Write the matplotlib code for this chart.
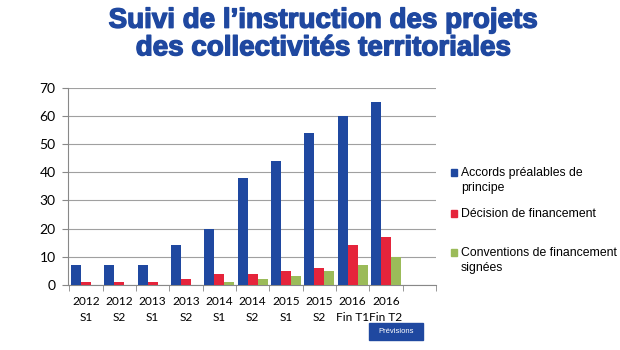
import numpy as np
import matplotlib
matplotlib.use("Agg")
import matplotlib.pyplot as plt
import matplotlib.patches as mpatches
import matplotlib.patheffects as pe

# data
periodes = ["2012\nS1", "2012\nS2", "2013\nS1", "2013\nS2", "2014\nS1", "2014\nS2",
            "2015\nS1", "2015\nS2", "2016\nFin T1", "2016\nFin T2", ""]
accords = [7, 7, 7, 14, 20, 38, 44, 54, 60, 65, 0]
decisions = [1, 1, 1, 2, 4, 4, 5, 6, 14, 17, 0]
conventions = [0, 0, 0, 0, 1, 2, 3, 5, 7, 10, 0]
series_noms = ["Accords préalables de\nprincipe", "Décision de financement",
               "Conventions de financement\nsignées"]
couleurs = ["#1F48A0", "#E5243B", "#9BBB59"]

fig = plt.figure(figsize=(6.2, 3.5), dpi=100)
ax = fig.add_axes([0.110, 0.186, 0.593, 0.563])

x = np.arange(len(periodes))
w = 0.3
ax.bar(x - w, accords, w, color=couleurs[0], zorder=3)
ax.bar(x, decisions, w, color=couleurs[1], zorder=3)
ax.bar(x + w, conventions, w, color=couleurs[2], zorder=3)

ax.set_xlim(-0.5 - 0.03, len(periodes) - 0.5 - 0.03)
ax.set_ylim(0, 70)
ax.set_yticks(range(0, 71, 10))
ax.yaxis.grid(True, color="#A0A0A0", linewidth=0.8, zorder=0)
ax.set_axisbelow(True)

# category labels between boundary ticks, Excel style
ax.set_xticks(x)
ax.set_xticklabels(periodes, fontsize=8.6, family="Lato", linespacing=1.6)
ax.tick_params(axis="x", length=0, pad=8)
ax.set_xticks(np.arange(len(periodes) + 1) - 0.5, minor=True)
ax.tick_params(axis="x", which="minor", length=4, color="#888888")
ax.tick_params(axis="y", length=4, color="#888888", labelsize=10, pad=5)
for lab in ax.get_yticklabels():
    lab.set_family("Lato")

for s in ["top", "right"]:
    ax.spines[s].set_visible(False)
ax.spines["left"].set_color("#888888")
ax.spines["bottom"].set_color("#888888")

# legend drawn by hand to keep Excel's uneven spacing
leg_y = [172, 213, 252]
for c, n, yy in zip(couleurs, series_noms, leg_y):
    fy = 1 - yy / 350
    fig.patches.append(mpatches.Rectangle((451 / 620, fy - 3.5 / 350), 6 / 620, 7 / 350,
                                          transform=fig.transFigure, color=c))
    fig.text(461 / 620, fy + 5 / 350, n, ha="left", va="top", fontsize=8.8,
             family="Liberation Sans", linespacing=1.3)

fig.text(323 / 620, 0.978, "Suivi de l\u2019instruction des projets\ndes collectivités territoriales",
         ha="center", va="top", fontsize=20, fontweight="bold", color="#1F48A0",
         family="Liberation Sans", linespacing=1.08,
         path_effects=[pe.withStroke(linewidth=1.0, foreground="#1F48A0")])

# "Prévisions" box under the last two categories
fig.patches.append(mpatches.Rectangle((369 / 620, 10 / 350), 54 / 620, 17 / 350,
                                      transform=fig.transFigure, color="#1F48A0"))
fig.text(396 / 620, 18.5 / 350, "Prévisions", ha="center", va="center", fontsize=5.5,
         color="white", family="Liberation Sans")

fig.savefig("out.png", dpi=100)
